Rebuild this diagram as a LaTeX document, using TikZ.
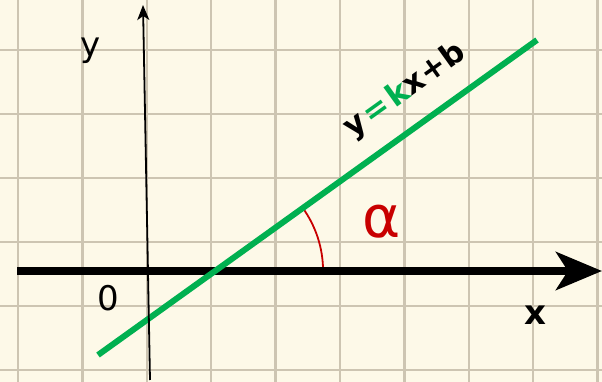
\documentclass[tikz,border=0pt]{standalone}
\usepackage{fontspec}
\setmainfont{DejaVu Sans}
\usetikzlibrary{arrows.meta, positioning}
\definecolor{Paper}{RGB}{253,249,232}
\definecolor{GridGray}{RGB}{205,197,178}
\definecolor{LineGreen}{RGB}{0,176,80}
\definecolor{AngleRed}{RGB}{200,0,0}

\begin{document}
\begin{tikzpicture}[x=1pt, y=1pt,
    gridline/.style={GridGray, line width=2.4pt},
    axislabel/.style={inner sep=0pt, font=\fontsize{34}{40}\selectfont}]
        \fill[Paper] (0,0) rectangle (602,382);
        \useasboundingbox (0,0) rectangle (602,382);
        % graph paper
        \foreach \gx in {0,...,9} \draw[gridline] (18+64.4*\gx,0) -- (18+64.4*\gx,382);
        \foreach \gy in {0,...,5} \draw[gridline] (0,12+64*\gy) -- (602,12+64*\gy);
        % axes and line end points
        \coordinate (xstart) at (17,111); \coordinate (xend) at (602,111);
        \coordinate (ystart) at (150,2); \coordinate (yend) at (143,377);
        \coordinate (lstart) at (98,27); \coordinate (lend) at (537,342);
        \coordinate (cross) at (intersection of xstart--xend and lstart--lend);
        % angle alpha
        \draw[AngleRed, line width=1.8pt] (cross) ++(108,0) arc[start angle=0, end angle=35.66, radius=108];
        \draw[line width=7.5pt, -{Stealth[length=46pt, width=38pt, inset=12pt]}] (xstart) -- (xend);
        \draw[LineGreen, line width=6pt] (lstart) -- (lend);
        \draw[line width=1.8pt, -{Stealth[length=15pt, width=12pt, inset=4pt]}] (ystart) -- (yend);
        % labels
        \node[axislabel] (ylabel) at (91,331) {y};
        \node[axislabel] (zero) at (108,84) {0};
        \node[axislabel, font=\fontsize{34}{40}\selectfont\bfseries] (xlabel) at (535,67) {x};
        \node[AngleRed, inner sep=0pt, font=\fontsize{58}{64}\selectfont] (alpha) at (382,160) {α};
        \node[rotate=35.66, inner sep=0pt, font=\fontsize{31}{36}\selectfont\bfseries] (eqn) at (405,291) {y\kern3pt{\color{LineGreen}=\kern3pt k}x+b};
\end{tikzpicture}
\end{document}
